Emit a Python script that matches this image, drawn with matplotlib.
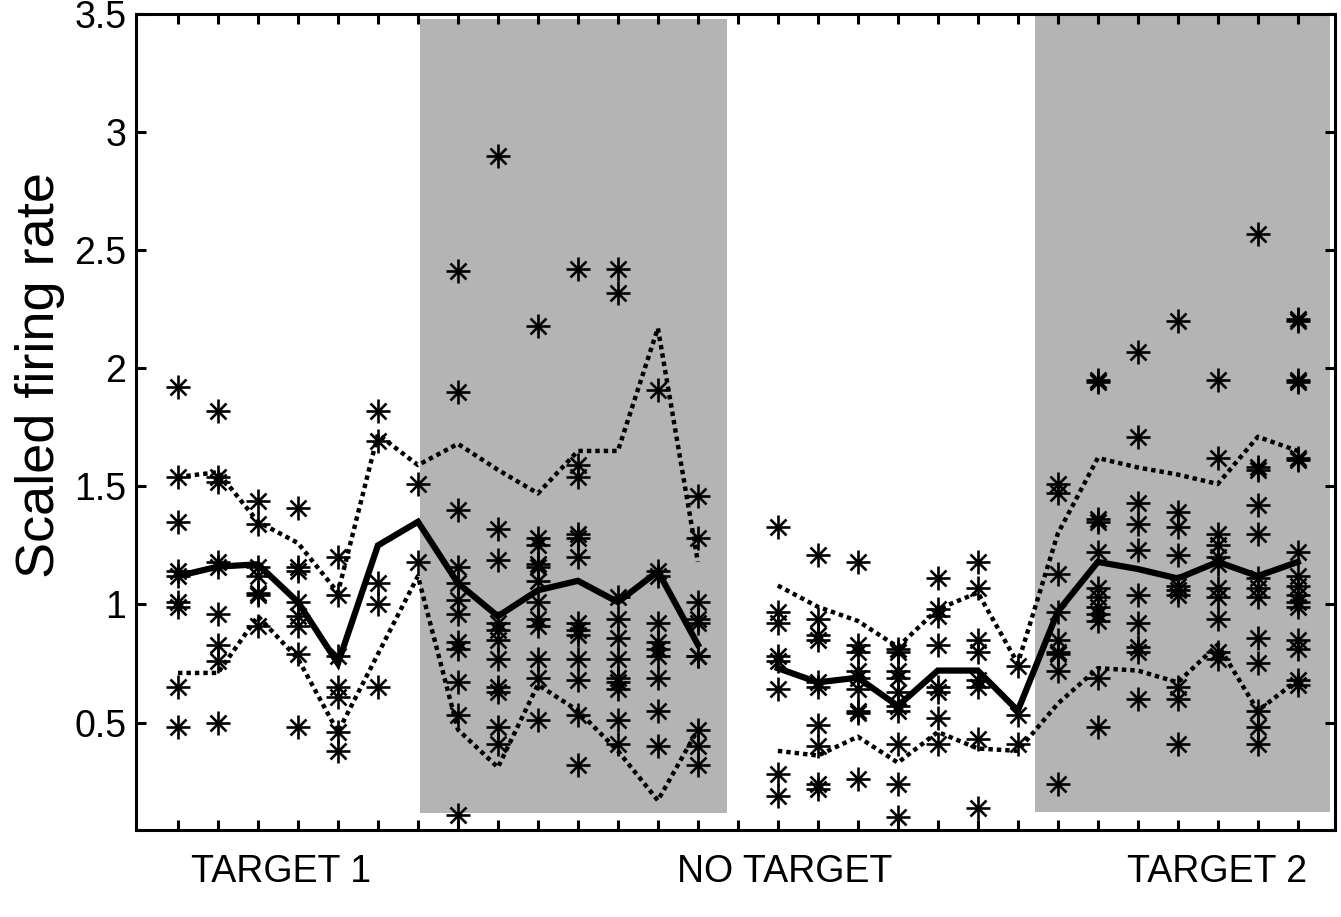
import numpy as np
import matplotlib
matplotlib.use("Agg")
import matplotlib.pyplot as plt
from matplotlib.transforms import blended_transform_factory

plt.rcParams['font.family'] = ['Liberation Sans', 'DejaVu Sans']

# trial index (1..29), first block = TARGET 1, second block = NO TARGET / TARGET 2
x_a = list(range(1, 15))
x_b = list(range(16, 30))

mean_a = [1.12, 1.16, 1.17, 1.01, 0.75, 1.25, 1.35, 1.09, 0.95, 1.06, 1.10, 1.01, 1.14, 0.83]
upper_a = [1.54, 1.56, 1.35, 1.26, 1.05, 1.72, 1.59, 1.68, 1.57, 1.47, 1.65, 1.65, 2.17, 1.18]
lower_a = [0.71, 0.71, 0.95, 0.77, 0.46, 0.79, 1.12, 0.47, 0.31, 0.66, 0.55, 0.38, 0.17, 0.47]

mean_b = [0.73, 0.67, 0.69, 0.57, 0.72, 0.72, 0.55, 0.97, 1.18, 1.15, 1.11, 1.18, 1.12, 1.18]
upper_b = [1.08, 0.99, 0.93, 0.82, 0.98, 1.05, 0.75, 1.30, 1.62, 1.58, 1.55, 1.51, 1.71, 1.65]
lower_b = [0.38, 0.36, 0.44, 0.33, 0.46, 0.39, 0.38, 0.58, 0.73, 0.72, 0.67, 0.83, 0.55, 0.68]

# individual cells, one list per trial
stars_a = [
    [1.92, 1.54, 1.35, 1.14, 1.12, 1.01, 0.99, 0.65, 0.48],
    [1.82, 1.54, 1.52, 1.18, 1.16, 0.96, 0.83, 0.76, 0.50],
    [1.44, 1.34, 1.16, 1.12, 1.05, 1.04, 0.91],
    [1.41, 1.16, 1.14, 1.01, 0.95, 0.91, 0.79, 0.48],
    [1.20, 1.04, 0.78, 0.65, 0.61, 0.46, 0.38],
    [1.82, 1.69, 1.09, 1.00, 0.65],
    [1.51, 1.18],
    [2.41, 1.90, 1.40, 1.16, 1.09, 1.02, 0.96, 0.84, 0.81, 0.67, 0.53, 0.11],
    [2.90, 1.32, 1.19, 0.92, 0.89, 0.85, 0.77, 0.65, 0.63, 0.48, 0.41],
    [2.18, 1.28, 1.25, 1.17, 1.16, 1.10, 1.01, 0.94, 0.91, 0.77, 0.69, 0.51],
    [2.42, 1.59, 1.54, 1.30, 1.28, 1.20, 0.92, 0.89, 0.87, 0.77, 0.68, 0.53, 0.32],
    [2.42, 2.32, 1.03, 0.94, 0.86, 0.77, 0.69, 0.67, 0.64, 0.51, 0.41],
    [1.91, 1.14, 1.12, 0.92, 0.84, 0.81, 0.78, 0.69, 0.55, 0.40],
    [1.46, 1.28, 1.01, 0.94, 0.92, 0.78, 0.78, 0.47, 0.40, 0.32],
]
stars_b = [
    [1.33, 0.97, 0.92, 0.78, 0.76, 0.64, 0.28, 0.19],
    [1.21, 0.94, 0.87, 0.85, 0.67, 0.65, 0.49, 0.40, 0.24, 0.22],
    [1.18, 0.83, 0.80, 0.72, 0.69, 0.64, 0.55, 0.54, 0.26],
    [0.81, 0.80, 0.72, 0.69, 0.63, 0.57, 0.55, 0.41, 0.24, 0.10],
    [1.11, 0.98, 0.95, 0.83, 0.65, 0.63, 0.52, 0.41],
    [1.18, 1.07, 0.85, 0.80, 0.68, 0.65, 0.43, 0.14],
    [0.74, 0.53, 0.41],
    [1.51, 1.47, 1.13, 0.97, 0.85, 0.80, 0.79, 0.72, 0.24],
    [1.95, 1.94, 1.36, 1.35, 1.22, 1.07, 1.03, 0.99, 0.96, 0.93, 0.69, 0.48],
    [2.07, 1.71, 1.43, 1.34, 1.23, 1.04, 0.92, 0.82, 0.80, 0.60],
    [2.20, 1.39, 1.33, 1.21, 1.08, 1.06, 1.04, 0.65, 0.60, 0.41],
    [1.95, 1.62, 1.30, 1.25, 1.20, 1.17, 1.07, 1.03, 0.94, 0.80, 0.77],
    [2.57, 1.58, 1.57, 1.42, 1.30, 1.11, 1.07, 1.03, 0.86, 0.75, 0.55, 0.48, 0.41],
    [2.21, 2.20, 1.95, 1.94, 1.62, 1.61, 1.22, 1.12, 1.08, 1.04, 1.01, 0.99, 0.85, 0.81, 0.68, 0.66],
]

# delay periods (shaded)
shade_x = [(7.05, 14.73), (22.43, 29.8)]
shade_y = [(0.115, 3.48), (0.12, 3.49)]

group_labels = ['TARGET 1', 'NO TARGET', 'TARGET 2']
group_label_x = [3.58, 16.18, 26.98]
yticks = [0.5, 1, 1.5, 2, 2.5, 3, 3.5]

fig = plt.figure(figsize=(13.41, 9.17), dpi=100)
ax = fig.add_axes([0.1014, 0.0949, 0.8941, 0.8898])

for (x0, x1), (y0, y1) in zip(shade_x, shade_y):
    ax.fill_between([x0, x1], y0, y1, color='#b4b4b4', lw=0, zorder=0)

sx, sy = [], []
for xs, groups in [(x_a, stars_a), (x_b, stars_b)]:
    for x, vals in zip(xs, groups):
        sx += [x] * len(vals)
        sy += vals
ax.plot(sx, sy, ls='none', marker='+', ms=17, mew=1.9, color='black', zorder=3)
ax.plot(sx, sy, ls='none', marker='x', ms=12, mew=1.9, color='black', zorder=3)

for xs, m, up, lo in [(x_a, mean_a, upper_a, lower_a), (x_b, mean_b, upper_b, lower_b)]:
    ax.plot(xs, up, color='black', lw=3.2, ls=(0, (1, 0.9)), zorder=4)
    ax.plot(xs, lo, color='black', lw=3.2, ls=(0, (1, 0.9)), zorder=4)
    ax.plot(xs, m, color='black', lw=4.5, solid_joinstyle='miter', zorder=5)

ax.set_xlim(-0.05, 29.93)
ax.set_ylim(0.045, 3.5)
ax.set_xticks(range(1, 30))
ax.set_xticklabels([])
ax.set_yticks(yticks)
ax.set_yticklabels(['0.5', '1', '1.5', '2', '2.5', '3', '3.5'])
ax.tick_params(direction='in', length=7, width=2.2, top=True, right=True,
               labelsize=27, pad=7)
for s in ax.spines.values():
    s.set_linewidth(2.2)

ax.set_ylabel('Scaled firing rate', fontsize=39, va='center')
ax.yaxis.set_label_coords(-0.08, 0.558)

tr = blended_transform_factory(ax.transData, ax.transAxes)
for lab, xx in zip(group_labels, group_label_x):
    ax.text(xx, -0.052, lab, transform=tr, ha='center', va='center', fontsize=27)

fig.savefig('out.png', dpi=100)
